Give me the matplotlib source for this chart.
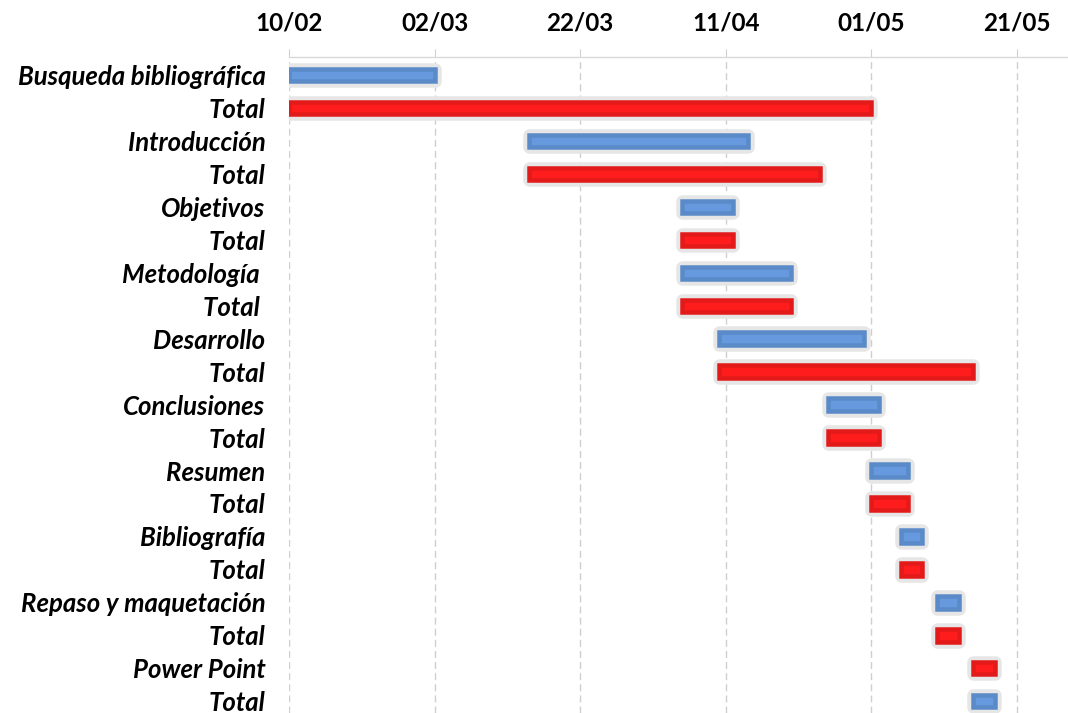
import datetime as dt
import matplotlib
matplotlib.use("Agg")
import matplotlib.pyplot as plt
import matplotlib.dates as mdates

# tareas (de arriba a abajo)
tareas = ["Busqueda bibliográfica", "Total", "Introducción", "Total",
          "Objetivos", "Total", "Metodología ", "Total ",
          "Desarrollo", "Total", "Conclusiones", "Total",
          "Resumen", "Total", "Bibliografía", "Total",
          "Repaso y maquetación", "Total", "Power Point", "Total"]
inicio = ["10/02", "10/02", "15/03", "15/03", "05/04", "05/04", "05/04", "05/04",
          "10/04", "10/04", "25/04", "25/04", "01/05", "01/05", "05/05", "05/05",
          "10/05", "10/05", "15/05", "15/05"]
fin = ["02/03", "01/05", "14/04", "24/04", "12/04", "12/04", "20/04", "20/04",
       "30/04", "15/05", "02/05", "02/05", "06/05", "06/05", "08/05", "08/05",
       "13/05", "13/05", "18/05", "18/05"]
tipo = ["plan", "total"] * 9 + ["total", "plan"]

ticks = ["10/02", "02/03", "22/03", "11/04", "01/05", "21/05"]
limites = ["10/02", "28/05"]

ANIO = 2019


def fecha(s):
    d, m = s.split("/")
    return mdates.date2num(dt.date(ANIO, int(m), int(d)))


colores = {"plan": ("#5A8BC8", "#6699DD"), "total": ("#E31A1A", "#FF1C1C")}

fig = plt.figure(figsize=(10.68, 7.13), dpi=100)
ax = fig.add_axes([0.2706, 0.0, 0.7294, 0.92])

px = 0.72  # puntos por pixel
alto = 0.38
for i, (a, b, t) in enumerate(zip(inicio, fin, tipo)):
    x0, x1 = fecha(a), fecha(b)
    oscuro, claro = colores[t]
    ax.barh(i, x1 - x0, left=x0, height=alto, color="#E6E6E6",
            edgecolor="#E6E6E6", linewidth=12.5 * px, joinstyle="round", zorder=2)
    ax.barh(i, x1 - x0, left=x0, height=alto, color=claro,
            edgecolor=oscuro, linewidth=4.5 * px, zorder=3)

ax.set_xlim(fecha(limites[0]), fecha(limites[1]))
ax.set_ylim(len(tareas) - 1 + 0.36, -0.55)

ax.set_yticks(range(len(tareas)))
ax.set_yticklabels(tareas, fontfamily="Lato", fontweight="bold",
                   fontstyle="italic", fontsize=18.5)
ax.tick_params(axis="y", length=0, pad=17)

ax.set_xticks([fecha(t) for t in ticks])
ax.set_xticklabels(ticks, fontfamily="Lato", fontweight="bold", fontsize=17.5)
ax.xaxis.tick_top()
ax.tick_params(axis="x", direction="out", length=6, color="#D0D0D0", pad=10)

ax.grid(axis="x", linestyle=(0, (5, 3)), color="#CFCFCF", linewidth=1, zorder=0)
ax.set_axisbelow(True)

for lado in ["left", "right", "bottom"]:
    ax.spines[lado].set_visible(False)
ax.spines["top"].set_color("#D9D9D9")
ax.spines["top"].set_linewidth(1)

fig.savefig("out.png", dpi=100, facecolor="white")
